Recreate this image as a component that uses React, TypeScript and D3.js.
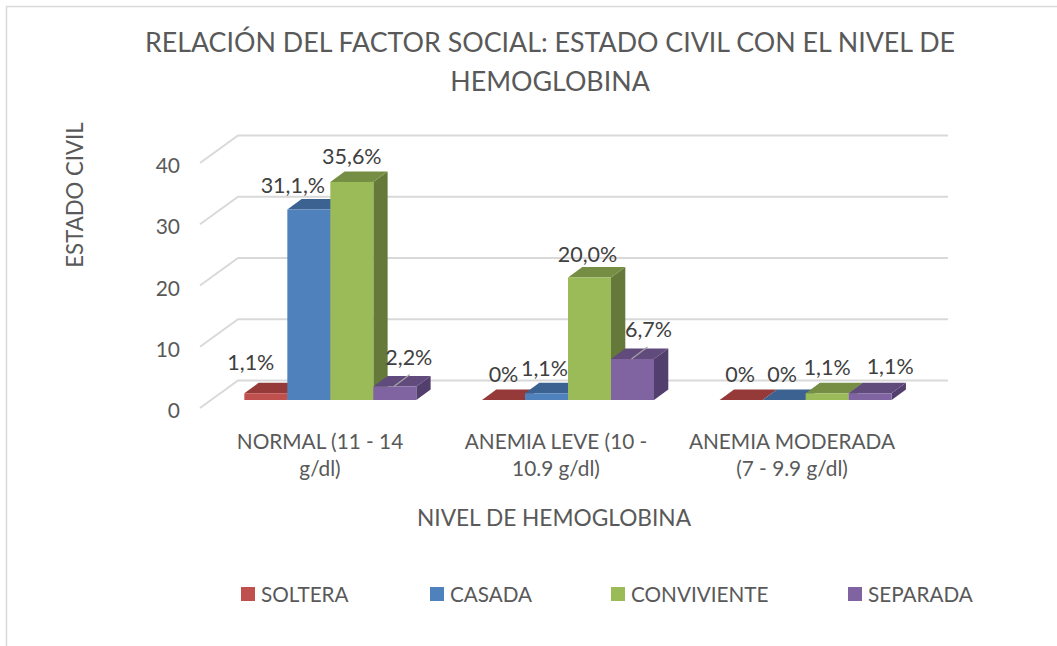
import React, { useEffect, useRef } from "react";
import * as d3 from "d3";

const categories = ["NORMAL (11 - 14 g/dl)", "ANEMIA LEVE (10 - 10.9 g/dl)", "ANEMIA MODERADA (7 - 9.9 g/dl)"];
const categoryLines = [["NORMAL (11 - 14", "g/dl)"], ["ANEMIA LEVE (10 -", "10.9 g/dl)"], ["ANEMIA MODERADA", "(7 - 9.9 g/dl)"]];
const seriesNames = ["SOLTERA", "CASADA", "CONVIVIENTE", "SEPARADA"];
const soltera = [1.1, 0, 0];
const casada = [31.1, 1.1, 0];
const conviviente = [35.6, 20.0, 1.1];
const separada = [2.2, 6.7, 1.1];
const seriesValues = [soltera, casada, conviviente, separada];
const solteraLabels = ["1,1%", "0%", "0%"];
const casadaLabels = ["31,1,%", "1,1%", "0%"];
const convivienteLabels = ["35,6%", "20,0%", "1,1%"];
const separadaLabels = ["2,2%", "6,7%", "1,1%"];
const seriesLabels = [solteraLabels, casadaLabels, convivienteLabels, separadaLabels];
const yTicks = [0, 10, 20, 30, 40];

const frontColors = ["#C0504D", "#4F81BD", "#9BBB59", "#8064A2"];
const topColors = ["#953A38", "#3B6291", "#768E44", "#614A7C"];
const sideColors = ["#7F3230", "#33547C", "#64793A", "#533F6E"];

const font = "Lato, 'Open Sans', sans-serif";
const textColor = "#595959";

// nudges of the data labels from the bar's top centre [dx, dy], same order as the series
const labelNudge = [
  [[-15, -23], [0, -18], [-1, -18]],
  [[-16, -17], [-2, -17], [-2, -18]],
  [[0, -18], [-2, -16], [0, -18]],
  [[14, -22], [16, -22], [20, -19]],
];
const leaders: Record<string, boolean> = { "3-0": true, "3-1": true };

export default function App() {
  const svgRef = useRef<SVGSVGElement>(null);

  useEffect(() => {
    const svg = d3.select(svgRef.current);
    svg.selectAll("*").remove();

    // floor front edge, wall depth and bar depth inside the floor
    const x0 = d3.scaleBand<string>().domain(categories).range([200, 913]);
    const xLabels = d3.scaleBand<string>().domain(categories).range([202, 910]);
    const y = d3.scaleLinear().domain([0, 40]).range([408, 163]);
    const gridLeft = 200;
    const gridRight = 910;
    const wallDx = 38;
    const wallDy = -27.5;
    const barOffX = 11.5;
    const barOffY = -8;
    const depthX = 14.3;
    const depthY = -10.5;
    const barW = 43;
    const x1 = d3.scaleBand<number>().domain([0, 1, 2, 3]).range([-barW * 2, barW * 2]);

    svg.append("rect").attr("width", 1057).attr("height", 646).attr("fill", "#ffffff");
    svg.append("path").attr("d", "M6.5,646V6.5H1057").attr("fill", "none")
      .attr("stroke", "#d9d9d9").attr("stroke-width", 1.5);

    // grid: side wall + back wall
    const grid = svg.append("g").attr("fill", "none").attr("stroke", "#d9d9d9").attr("stroke-width", 2);
    yTicks.forEach((t) => {
      const pts: [number, number][] = [
        [gridLeft, y(t)],
        [gridLeft + wallDx, y(t) + wallDy],
        [gridRight + wallDx, y(t) + wallDy],
      ];
      grid.append("path").attr("d", d3.line()(pts));
    });

    // bars, left to right so the next front covers the last side
    categories.forEach((c, ci) => {
      const cx = x0(c)! + x0.bandwidth() / 2 + barOffX;
      seriesValues.forEach((vals, si) => {
        const left = cx + x1(si)!;
        const right = left + barW;
        const base = y(0) + barOffY;
        const top = y(vals[ci]) + barOffY;
        const g = svg.append("g");
        g.append("path")
          .attr("d", `M${right},${top}L${right + depthX},${top + depthY}L${right + depthX},${base + depthY}L${right},${base}Z`)
          .attr("fill", sideColors[si]);
        g.append("path")
          .attr("d", `M${left},${top}L${left + depthX},${top + depthY}L${right + depthX},${top + depthY}L${right},${top}Z`)
          .attr("fill", topColors[si]);
        if (vals[ci] > 0) {
          g.append("rect").attr("x", left).attr("y", top).attr("width", barW).attr("height", base - top)
            .attr("fill", frontColors[si]);
        }
      });
    });

    // data labels
    categories.forEach((c, ci) => {
      const cx = x0(c)! + x0.bandwidth() / 2 + barOffX;
      seriesValues.forEach((vals, si) => {
        const mid = cx + x1(si)! + barW / 2;
        const top = y(vals[ci]) + barOffY;
        const [dx, dy] = labelNudge[si][ci];
        if (leaders[`${si}-${ci}`]) {
          svg.append("line")
            .attr("x1", mid - 1).attr("y1", top)
            .attr("x2", mid + 15).attr("y2", top - 12)
            .attr("stroke", "#a6a6a6").attr("stroke-width", 1.2);
        }
        svg.append("text")
          .attr("x", mid + dx).attr("y", top + dy)
          .attr("text-anchor", "middle")
          .attr("font-family", font).attr("font-size", 21.5).attr("fill", "#404040")
          .text(seriesLabels[si][ci]);
      });
    });

    // y axis
    const axis = svg.append("g").attr("transform", "translate(180,3)")
      .call(d3.axisLeft(y).tickValues(yTicks).tickSize(0).tickPadding(0).tickFormat(d3.format("d")));
    axis.select(".domain").remove();
    axis.selectAll("text")
      .attr("font-family", font).attr("font-size", 21).attr("fill", textColor);

    // category labels
    categories.forEach((c, ci) => {
      const cx = xLabels(c)! + xLabels.bandwidth() / 2;
      categoryLines[ci].forEach((line, li) => {
        svg.append("text")
          .attr("x", cx).attr("y", 449 + li * 27)
          .attr("text-anchor", "middle")
          .attr("font-family", font).attr("font-size", 20.8).attr("fill", textColor)
          .text(line);
      });
    });

    // titles
    const title = svg.append("g").attr("font-family", font).attr("font-size", 26.8).attr("fill", textColor).attr("text-anchor", "middle");
    title.append("text").attr("x", 550).attr("y", 52).text("RELACIÓN DEL FACTOR SOCIAL: ESTADO CIVIL CON EL NIVEL DE");
    title.append("text").attr("x", 550).attr("y", 91).text("HEMOGLOBINA");

    svg.append("text").attr("x", 554).attr("y", 526).attr("text-anchor", "middle")
      .attr("font-family", font).attr("font-size", 22.7).attr("fill", textColor)
      .text("NIVEL DE HEMOGLOBINA");
    svg.append("text").attr("transform", "translate(83,195) rotate(-90)").attr("text-anchor", "middle")
      .attr("font-family", font).attr("font-size", 22.2).attr("fill", textColor)
      .text("ESTADO CIVIL");

    // legend
    const legendX = d3.scaleOrdinal<string, number>().domain(seriesNames).range([241, 430, 611, 848]);
    seriesNames.forEach((name, i) => {
      const lx = legendX(name);
      svg.append("rect").attr("x", lx).attr("y", 587).attr("width", 14).attr("height", 14).attr("fill", frontColors[i]);
      svg.append("text").attr("x", lx + 20).attr("y", 602)
        .attr("font-family", font).attr("font-size", 20.7).attr("fill", textColor)
        .text(name);
    });
  }, []);

  return <svg ref={svgRef} width={1057} height={646} style={{ position: "absolute", left: 0, top: 0 }} />;
}
